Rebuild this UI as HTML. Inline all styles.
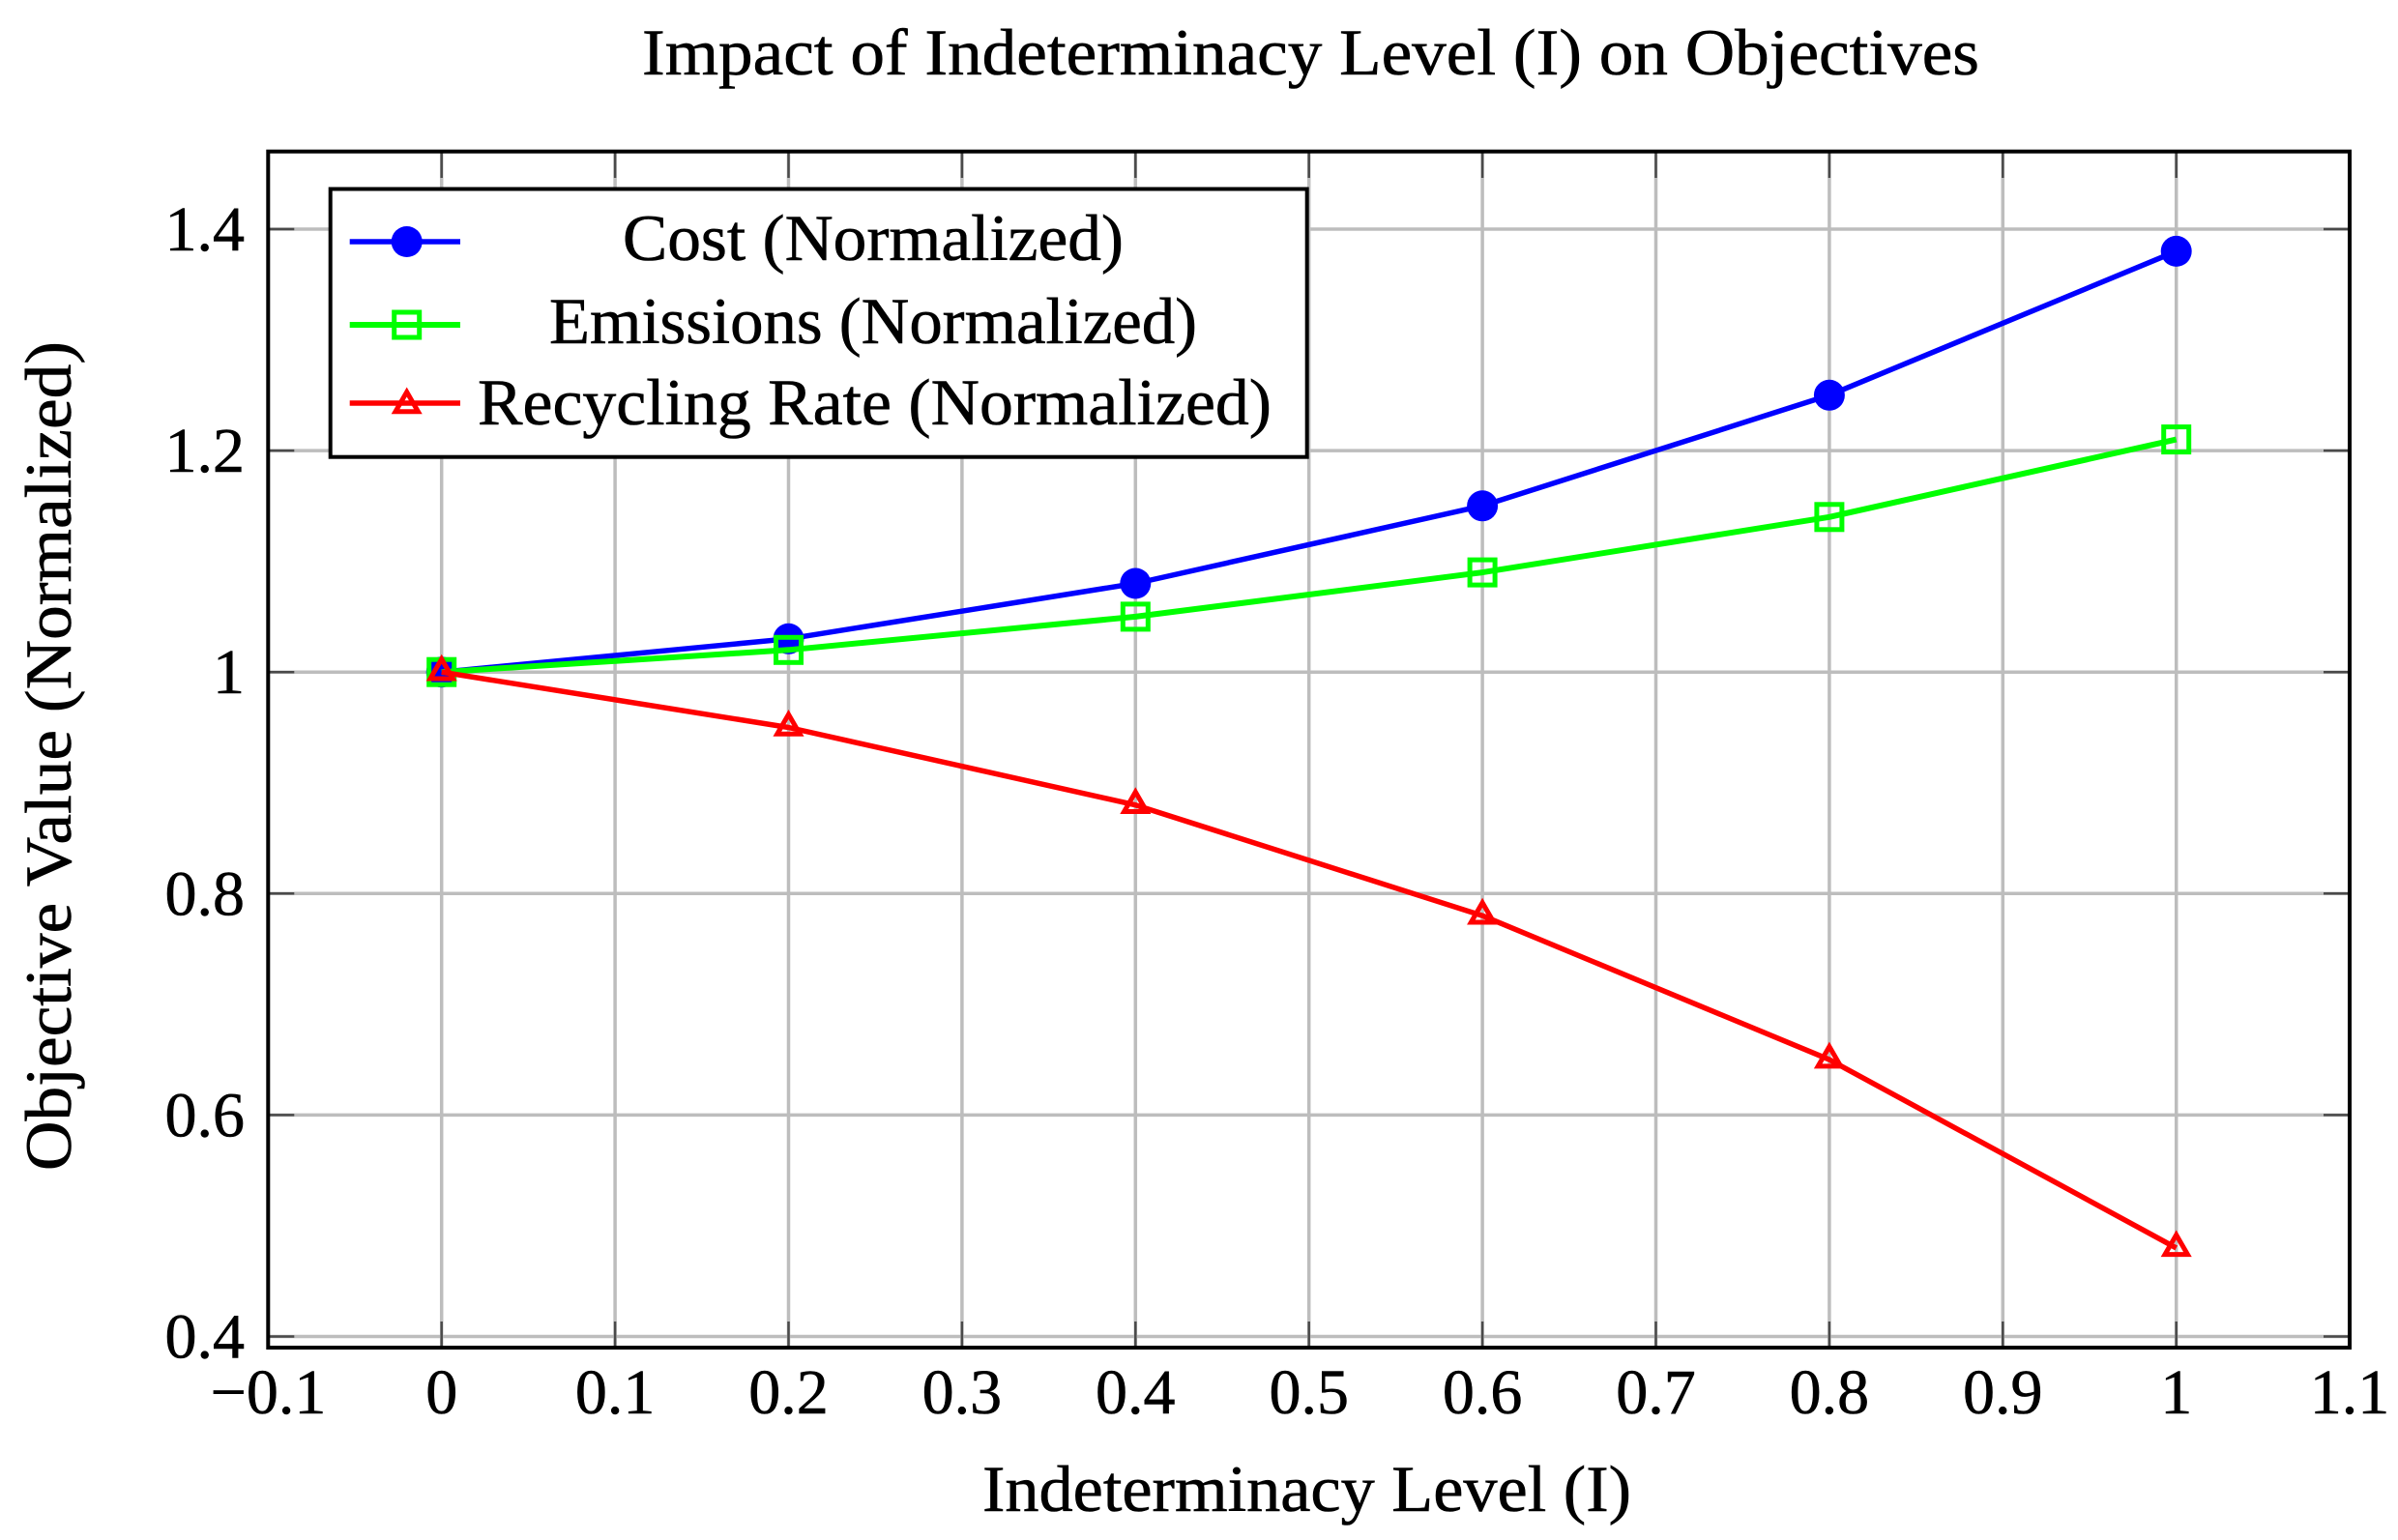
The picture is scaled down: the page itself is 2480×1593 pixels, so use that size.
<!DOCTYPE html>
<html><head><meta charset="utf-8"><style>
html,body{margin:0;padding:0;background:#fff;}
svg{display:block;}
text{font-family:"Liberation Serif",serif;fill:#000;stroke:#000;stroke-width:0.6px;}
</style></head><body>
<svg width="2480" height="1593" viewBox="0 0 2480 1593" xmlns="http://www.w3.org/2000/svg">
<rect width="2480" height="1593" fill="#fff"/>
<!-- grid -->
<g stroke="#bdbdbd" stroke-width="3.5">
<line x1="456.7" y1="157" x2="456.7" y2="1394"/>
<line x1="636.1" y1="157" x2="636.1" y2="1394"/>
<line x1="815.5" y1="157" x2="815.5" y2="1394"/>
<line x1="994.9" y1="157" x2="994.9" y2="1394"/>
<line x1="1174.3" y1="157" x2="1174.3" y2="1394"/>
<line x1="1353.7" y1="157" x2="1353.7" y2="1394"/>
<line x1="1533.1" y1="157" x2="1533.1" y2="1394"/>
<line x1="1712.5" y1="157" x2="1712.5" y2="1394"/>
<line x1="1891.9" y1="157" x2="1891.9" y2="1394"/>
<line x1="2071.3" y1="157" x2="2071.3" y2="1394"/>
<line x1="2250.7" y1="157" x2="2250.7" y2="1394"/>
<line x1="277.3" y1="1382.5" x2="2430" y2="1382.5"/>
<line x1="277.3" y1="1153.4" x2="2430" y2="1153.4"/>
<line x1="277.3" y1="924.3" x2="2430" y2="924.3"/>
<line x1="277.3" y1="695.2" x2="2430" y2="695.2"/>
<line x1="277.3" y1="466.1" x2="2430" y2="466.1"/>
<line x1="277.3" y1="237" x2="2430" y2="237"/>
</g>
<!-- ticks -->
<g stroke="#4a4a4a" stroke-width="2.5">
<path d="M456.7 1394v-27M636.1 1394v-27M815.5 1394v-27M994.9 1394v-27M1174.3 1394v-27M1353.7 1394v-27M1533.1 1394v-27M1712.5 1394v-27M1891.9 1394v-27M2071.3 1394v-27M2250.7 1394v-27"/>
<path d="M456.7 157v27M636.1 157v27M815.5 157v27M994.9 157v27M1174.3 157v27M1353.7 157v27M1533.1 157v27M1712.5 157v27M1891.9 157v27M2071.3 157v27M2250.7 157v27"/>
<path d="M277.3 1382.5h27M277.3 1153.4h27M277.3 924.3h27M277.3 695.2h27M277.3 466.1h27M277.3 237h27"/>
<path d="M2430 1382.5h-27M2430 1153.4h-27M2430 924.3h-27M2430 695.2h-27M2430 466.1h-27M2430 237h-27"/>
</g>
<!-- series: cost -->
<polyline fill="none" stroke="#0000ff" stroke-width="5.5" stroke-linejoin="round" points="456.7,695.2 815.5,660.8 1174.3,603.5 1533.1,523.3 1891.9,408.8 2250.7,259.9"/>
<g fill="#0000ff">
<circle cx="456.7" cy="695.2" r="16"/><circle cx="815.5" cy="660.8" r="16"/><circle cx="1174.3" cy="603.5" r="16"/><circle cx="1533.1" cy="523.3" r="16"/><circle cx="1891.9" cy="408.8" r="16"/><circle cx="2250.7" cy="259.9" r="16"/>
</g>
<!-- series: emissions -->
<polyline fill="none" stroke="#00ff00" stroke-width="6" stroke-linejoin="round" points="456.7,695.2 815.5,672.3 1174.3,637.9 1533.1,592.1 1891.9,534.8 2250.7,454.6"/>
<g fill="none" stroke="#00ff00" stroke-width="5">
<rect x="443.7" y="682.2" width="26" height="26"/><rect x="802.5" y="659.3" width="26" height="26"/><rect x="1161.3" y="624.9" width="26" height="26"/><rect x="1520.1" y="579.1" width="26" height="26"/><rect x="1878.9" y="521.8" width="26" height="26"/><rect x="2237.7" y="441.6" width="26" height="26"/>
</g>
<!-- series: recycling -->
<polyline fill="none" stroke="#ff0000" stroke-width="5.5" stroke-linejoin="round" points="456.7,695.2 815.5,752.5 1174.3,832.7 1533.1,947.2 1891.9,1096.1 2250.7,1290.9"/>
<g fill="none" stroke="#ff0000" stroke-width="5" stroke-linejoin="miter">
<path d="M456.7 681.7l11.7 20.25h-23.4z"/>
<path d="M815.5 739l11.7 20.25h-23.4z"/>
<path d="M1174.3 819.2l11.7 20.25h-23.4z"/>
<path d="M1533.1 933.7l11.7 20.25h-23.4z"/>
<path d="M1891.9 1082.6l11.7 20.25h-23.4z"/>
<path d="M2250.7 1277.4l11.7 20.25h-23.4z"/>
</g>
<!-- axes frame -->
<rect x="277.3" y="156.7" width="2152.7" height="1237.3" fill="none" stroke="#000" stroke-width="4"/>
<!-- legend -->
<rect x="341.7" y="195.5" width="1010" height="277.2" fill="#fff" stroke="#000" stroke-width="4"/>
<line x1="361.7" y1="250" x2="476" y2="250" stroke="#0000ff" stroke-width="5.5"/>
<circle cx="420.7" cy="250" r="16" fill="#0000ff"/>
<line x1="361.7" y1="336" x2="476" y2="336" stroke="#00ff00" stroke-width="6"/>
<rect x="407.7" y="323" width="26" height="26" fill="none" stroke="#00ff00" stroke-width="5"/>
<line x1="361.7" y1="417" x2="476" y2="417" stroke="#ff0000" stroke-width="5.5"/>
<path d="M420.7 405.5l11.7 20.25h-23.4z" fill="none" stroke="#ff0000" stroke-width="5"/>
<text x="644" y="269" font-size="68" textLength="518" lengthAdjust="spacingAndGlyphs">Cost (Normalized)</text>
<text x="568" y="355" font-size="68" textLength="670" lengthAdjust="spacingAndGlyphs">Emissions (Normalized)</text>
<text x="494" y="439" font-size="68" textLength="821" lengthAdjust="spacingAndGlyphs">Recycling Rate (Normalized)</text>
<!-- y tick labels -->
<g font-size="66" text-anchor="end">
<text x="253" y="1404.5">0.4</text>
<text x="253" y="1175.4">0.6</text>
<text x="253" y="946.3">0.8</text>
<text x="253" y="717.2">1</text>
<text x="253" y="488.1">1.2</text>
<text x="253" y="259">1.4</text>
</g>
<!-- x tick labels -->
<g font-size="66" text-anchor="middle">
<text x="277.5" y="1462">−0.1</text>
<text x="456.7" y="1462">0</text>
<text x="636.1" y="1462">0.1</text>
<text x="815.5" y="1462">0.2</text>
<text x="994.9" y="1462">0.3</text>
<text x="1174.3" y="1462">0.4</text>
<text x="1353.7" y="1462">0.5</text>
<text x="1533.1" y="1462">0.6</text>
<text x="1712.5" y="1462">0.7</text>
<text x="1891.9" y="1462">0.8</text>
<text x="2071.3" y="1462">0.9</text>
<text x="2250.7" y="1462">1</text>
<text x="2430" y="1462">1.1</text>
</g>
<!-- title and axis labels -->
<text x="664" y="77" font-size="68" textLength="1383" lengthAdjust="spacingAndGlyphs">Impact of Indeterminacy Level (I) on Objectives</text>
<text x="1016" y="1563" font-size="68" textLength="671" lengthAdjust="spacingAndGlyphs">Indeterminacy Level (I)</text>
<text transform="translate(73,1211) rotate(-90)" x="0" y="0" font-size="68" textLength="858" lengthAdjust="spacingAndGlyphs">Objective Value (Normalized)</text>
</svg>
</body></html>
